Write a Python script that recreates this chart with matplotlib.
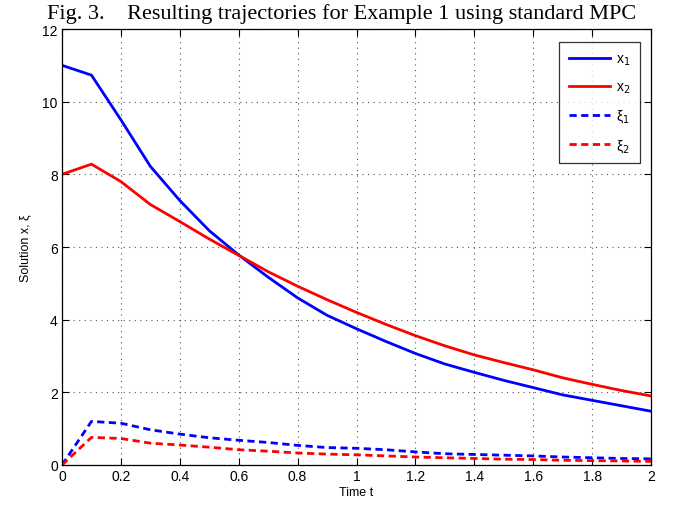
import matplotlib
matplotlib.use('Agg')
import matplotlib.pyplot as plt
import numpy as np

# time grid and trajectories
time_t = [0.0, 0.1, 0.2, 0.3, 0.4, 0.5, 0.6, 0.7, 0.8, 0.9, 1.0,
          1.1, 1.2, 1.3, 1.4, 1.5, 1.6, 1.7, 1.8, 1.9, 2.0]
x1 = [11.0, 10.73, 9.5, 8.22, 7.28, 6.45, 5.78, 5.17, 4.6, 4.12, 3.75,
      3.4, 3.07, 2.78, 2.55, 2.33, 2.13, 1.93, 1.78, 1.63, 1.48]
x2 = [8.0, 8.28, 7.8, 7.17, 6.7, 6.22, 5.77, 5.32, 4.92, 4.55, 4.2,
      3.87, 3.56, 3.28, 3.03, 2.82, 2.62, 2.4, 2.22, 2.05, 1.9]
xi1 = [0.0, 1.2, 1.15, 0.97, 0.85, 0.75, 0.68, 0.62, 0.54, 0.48, 0.46,
       0.42, 0.36, 0.31, 0.29, 0.27, 0.25, 0.22, 0.2, 0.18, 0.17]
xi2 = [0.0, 0.76, 0.73, 0.6, 0.55, 0.49, 0.42, 0.38, 0.33, 0.3, 0.28,
       0.25, 0.22, 0.2, 0.18, 0.16, 0.15, 0.13, 0.12, 0.11, 0.1]

x_ticks = [0, 0.2, 0.4, 0.6, 0.8, 1, 1.2, 1.4, 1.6, 1.8, 2]
x_tick_labels = ['0', '0.2', '0.4', '0.6', '0.8', '1', '1.2', '1.4', '1.6', '1.8', '2']
y_ticks = [0, 2, 4, 6, 8, 10, 12]

plt.rcParams['font.family'] = ['Liberation Sans', 'DejaVu Sans']

fig = plt.figure(figsize=(6.83, 5.06), dpi=100)
ax = fig.add_axes([62 / 683, 40 / 506, 589 / 683, 436 / 506])

lw = 2.0
dash = (0, (2.6, 1.6))
ax.plot(time_t, x1, color='#0000ff', lw=lw, label='x$_1$')
ax.plot(time_t, x2, color='#ff0000', lw=lw, label='x$_2$')
ax.plot(time_t, xi1, color='#0000ff', lw=lw, ls=dash, label='ξ$_1$')
ax.plot(time_t, xi2, color='#ff0000', lw=lw, ls=dash, label='ξ$_2$')

ax.set_xlim(0, 2)
ax.set_ylim(0, 12)
ax.set_xticks(x_ticks)
ax.set_xticklabels(x_tick_labels)
ax.set_yticks(y_ticks)
ax.tick_params(direction='in', top=True, right=True, length=5, width=0.8,
               labelsize=10, pad=3, colors='black')
ax.grid(True, ls=(0, (1, 4)), color='#555555', lw=0.8)
for sp in ax.spines.values():
    sp.set_linewidth(0.9)

ax.set_xlabel('Time t', fontsize=9, labelpad=2)
ax.set_ylabel('Solution x, ξ', fontsize=9, labelpad=8)

leg = ax.legend(loc='upper right', bbox_to_anchor=(0.981, 0.970), borderaxespad=0,
                fontsize=10, frameon=True, fancybox=False, edgecolor='black',
                handlelength=3.0, labelspacing=0.9, borderpad=0.7,
                handletextpad=0.4)
leg.get_frame().set_linewidth(0.9)

fig.text(0.5, 0.992, 'Fig. 3.    Resulting trajectories for Example 1 using standard MPC',
         ha='center', va='top', fontsize=16, family='Liberation Serif')

fig.savefig('out.png', dpi=100)
